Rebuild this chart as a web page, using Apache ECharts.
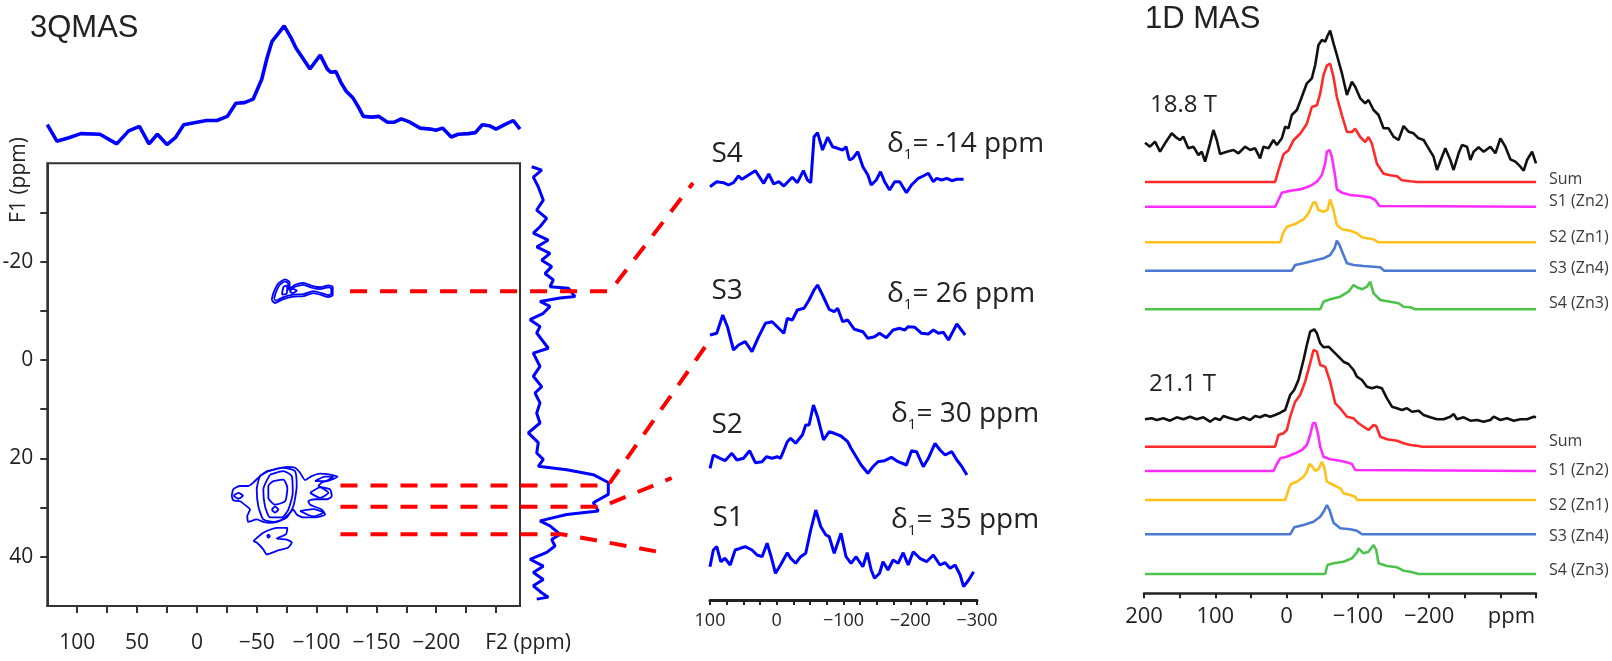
<!DOCTYPE html>
<html><head><meta charset="utf-8">
<script src="https://cdn.jsdelivr.net/npm/echarts@6/dist/echarts.min.js"></script>
<style>html,body{margin:0;padding:0;background:#fff}#c{width:1612px;height:661px}</style>
</head><body><div id="c"></div>
<script>
// ---------------- DATA ----------------
// 3QMAS: F2 (top) projection
const f2ProjPpm = [125,117,107,97,81,67,57,48,40,33,25,18,11,0,-8,-16.7,-25.4,-32.6,-39.8,-47,-54.2,-58.5,-62.8,-68.6,-72.9,-78.7,-82.9,-88.7,-94.5,-98.8,-103.1,-108.9,-111.8,-116.1,-120.4,-124.8,-130.5,-134.8,-139.1,-146.3,-152.1,-159.3,-165.1,-170.8,-178,-186.6,-195.2,-199.6,-205.3,-212.5,-218.3,-226.9,-232.7,-238.5,-244.3,-250,-257.2,-264.4,-270];
const f2ProjInt = [25.3,8.8,12.3,16.4,15.7,6.1,19.1,23.6,6.1,15.7,5.4,12.3,25.3,27.8,29.5,29.5,33.6,46.7,47.4,50.8,70.8,91.5,108.7,117.3,124.2,112.1,101.8,91.5,81.1,88,94.9,81.1,77.7,78.4,67.4,58.7,51.9,43.3,33.6,32.9,33.6,27.8,27.8,31.2,27.8,21.9,20.9,19.8,21.9,13,15.7,16.4,17.4,25.3,24.3,20.9,25.3,29.5,20.9];
// 3QMAS: F1 (right) projection
const f1ProjPpm = [-39.3,-38.6,-37.2,-35.2,-32.5,-30.5,-28.8,-27.1,-25.8,-24.4,-23,-21.7,-20.3,-19,-17.6,-16.3,-14.9,-14.6,-12.9,-12.6,-11.9,-10.9,-9.5,-8.2,-6.8,-5.5,-2.4,-1.4,1.3,3.3,5.4,6.7,8.7,10.8,12.8,14.8,16.8,18.9,20.2,21.6,22.3,23.3,24.9,27.3,29,30.7,31.4,32.7,33.7,35.4,36.5,37.8,39.1,40.5,41.9,43.2,44.6,45.9,47.3,48.2,48.6];
const f1ProjInt = [6.7,16.7,8.3,13.3,18.3,11.7,21.7,15,8.3,23.3,11.7,25,16.7,26.7,20,28.3,25,43.3,50,35,15,25,18.3,5,15,11.7,23.3,8.3,15,8.3,16.7,10,15,11.7,15,3.3,13.3,11.7,18.3,13.3,41.7,68.3,83.3,83.3,68.3,73.3,41.7,15,25,35,26.7,30,21.7,5,18.3,8.3,18.3,8.3,16.7,23.3,11.7];
// 3QMAS contours: rings of [F2 ppm, F1 ppm]
const contourRings = [
  [[-62.5,-12.2],[-63.9,-13.6],[-68.1,-15.6],[-73.7,-16.4],[-77.3,-15.9],[-77.8,-14.6],[-82,-15.3],[-89,-15.7],[-96,-15.1],[-102.9,-14.8],[-109.9,-15.2],[-113.5,-14.9],[-113.5,-13.2],[-109.9,-12.8],[-104.3,-13.2],[-97.3,-13.6],[-89,-13],[-80.6,-12.9],[-72.2,-12.4],[-65.3,-11.6],[-62.5,-12.2]],
  [[-64.5,-12.4],[-65.8,-13.6],[-69.3,-15.3],[-73.5,-16],[-76.3,-15.6],[-76.8,-14.3],[-82,-14.9],[-89,-15.3],[-96,-14.7],[-103,-14.4],[-110,-14.8],[-112.3,-14.6],[-112.3,-13.5],[-110,-13.2],[-104.3,-13.6],[-97.3,-14],[-89,-13.4],[-80.6,-13.3],[-72.2,-12.8],[-66,-12.1],[-64.5,-12.4]],
  [[-71,-13.3],[-72.5,-14.9],[-75.5,-15.2],[-75,-13.5],[-71,-13.3]],
  [[-77.5,-14],[-80,-14.5],[-83.5,-14.1],[-80,-13.6],[-77.5,-14]],
  [[-29.1,27.7],[-30.4,26.3],[-36,25.6],[-43,25.6],[-47.2,24.9],[-52.8,23.6],[-59.7,22.6],[-66.7,22.1],[-75.1,21.7],[-82,21.9],[-86.2,22.9],[-90.4,24.4],[-96,23.6],[-102.9,23.1],[-111.3,23.3],[-117.4,23.7],[-111.3,24.4],[-104.3,24.9],[-101.5,25.6],[-111.3,26.3],[-112.7,27.7],[-108.5,28.3],[-98.7,28.3],[-93.1,28.7],[-94.6,29.4],[-104.3,30.4],[-107.1,31.4],[-98.7,32],[-89,32],[-83.4,31.4],[-80.6,30.4],[-76.4,31.4],[-69.5,32.7],[-61.1,33.1],[-55.5,32.9],[-50,32.4],[-43,32.9],[-42.1,31.7],[-44.4,30.4],[-41.6,29.7],[-36,28.7],[-30.4,28.5],[-29.1,27.7]],
  [[-58.4,22.6],[-72.2,21.9],[-82,22.6],[-83.4,25.6],[-80.6,29.7],[-75.1,32],[-63.9,32.9],[-55.5,32.4],[-51.3,29.7],[-50,26.3],[-52.8,23.6],[-58.4,22.6]],
  [[-61.1,23.3],[-72.2,22.6],[-79.3,23.6],[-80.1,27],[-76.4,30.4],[-70.9,32],[-61.1,32],[-56.9,29.7],[-55.5,26.3],[-61.1,23.3]],
  [[-63.9,24.6],[-72.2,24.3],[-75.6,26],[-73.7,28.7],[-65.3,29.4],[-59.7,28],[-59.7,25.6],[-63.9,24.6]],
  [[-62.5,30.4],[-65.3,29.8],[-68.1,30.4],[-65.3,31],[-62.5,30.4]],
  [[-30.5,27.6],[-34.6,27],[-38.5,27.6],[-34.6,28.2],[-30.5,27.6]],
  [[-94.6,27],[-102.9,25.9],[-109.9,27],[-102.9,28],[-94.6,27]],
  [[-86.2,30.7],[-97.3,30.3],[-105.7,31],[-97.3,31.8],[-86.2,30.7]],
  [[-98.7,24.6],[-107.1,23.7],[-114.1,23.7],[-107.1,24.6],[-98.7,24.6]],
  [[-47.2,36.8],[-55.5,35.1],[-66.7,34.1],[-75.6,34.1],[-74.5,35.4],[-66.7,36.3],[-75.1,36.5],[-79.3,37.1],[-76.4,38.1],[-66.7,38.8],[-58.4,39.5],[-55.5,38.5],[-50,37.1],[-47.2,36.8]],
  [[-58.5,35.8],[-59.7,35.5],[-61,35.8],[-59.7,36.1],[-58.5,35.8]]
];
// F2 slices
const sliceNames = ['S4','S3','S2','S1'];
const sliceDelta = [-14, 26, 30, 35];
const s4Ppm = [100,89.9,79.9,72.4,64.8,57.3,52.2,42.2,32.1,24.5,19.5,12,4.5,-3.1,-10.6,-18.2,-23.3,-30.9,-39.9,-46,-51,-55.9,-61.1,-68.6,-76.2,-83.7,-91.2,-98.8,-103.8,-108.8,-113.9,-121.4,-129,-136.5,-141.5,-149.1,-155.5,-161.6,-169.1,-176.7,-184.2,-186.8,-194.3,-201.9,-212,-219.5,-227.1,-234.6,-239.6,-247.2,-254.7,-262.3,-269.8,-279.9];
const s4Int = [13.3,18.3,17.3,15,17.3,24,20.7,25,29.3,21.7,16.7,26,16,18.3,14,19.3,22.7,17.3,29.3,20,17.3,63.3,67.3,50,62.7,53.3,51.7,50,53.3,40,41.7,48.3,33.3,25,15,20,28.3,18.3,10,18.3,18.3,16.7,7.3,15,21.7,24,26.7,18.3,21.7,20,21.7,19.3,20.7,20.7];
const s3Ppm = [100,89.9,80.9,73.9,64.8,57.3,47.2,37.1,27.1,17,6.9,-0.7,-10.6,-15.8,-23.3,-30.9,-40.8,-48.4,-55.9,-61.1,-68.6,-78.6,-86.1,-91.2,-98.8,-106.3,-116.3,-129,-136.5,-146.5,-154,-164.2,-174.3,-184.2,-191.8,-196.9,-206.9,-217,-227.1,-234.6,-242.2,-249.7,-257.3,-269.8,-282.3];
const s3Int = [25,26.7,45,33.3,10,15,18.3,8.3,23.3,36.7,38.3,33.3,26.7,41.7,40,50,51.7,60,70,75,65,50.7,48.3,51.7,38.3,40,30.7,28.3,21.7,23.3,26.7,22.3,30,31.7,30,33.3,32.7,26.7,26,30,26.7,27.7,20,36,25];
const s2Ppm = [100,95,84.9,77.4,67.3,59.7,49.7,40.7,32.1,22,15.5,6.9,-0.7,-5.7,-15.8,-20.8,-28.3,-38.4,-43.4,-48.4,-55,-61.1,-70.1,-78.6,-86.1,-96.2,-106.3,-111.3,-118.9,-126.4,-136.5,-144.1,-151.6,-161.6,-171.7,-181.8,-194.3,-201.9,-209.4,-219.5,-227.1,-237.1,-244.6,-252.2,-262.3,-269.8,-277.4,-284.9];
const s2Int = [16.7,30,26.7,24.3,31.7,25,26.7,34.3,22.3,23.3,28.3,26.7,28.3,26.7,43.3,46.7,41.7,50,60,60,80,68.3,45,53.3,51.7,49,43.3,36.7,28.3,20,11.7,18.3,23.3,24.3,27.7,23.3,20,34.3,33.3,18.3,26.7,41.7,35,30,33.3,25,18.3,10];
const s1Ppm = [100,95,89.9,83.9,77.4,69.8,62.3,54.7,47.2,37.1,29.5,22,14.4,8.4,1.9,-5.7,-15.8,-20.8,-28.3,-35.8,-43.4,-50.9,-58.5,-66,-73.6,-78.6,-86.1,-93.7,-96.2,-103.8,-111.3,-118.9,-123.8,-129,-135.5,-141.5,-146.5,-154,-159.2,-166.7,-174.3,-181.8,-189.4,-196.9,-204.5,-214.4,-224.5,-234.6,-244.6,-252.2,-259.7,-267.2,-274.8,-279.9,-287.5,-295];
const s1Int = [28.3,45,48.3,33.3,36.7,30,45,46.7,48.3,45,40,38.3,51.7,38.3,21.7,30,42.3,36.7,31.7,38.3,41.7,65,85,68.3,60,58.3,41.7,56.7,61.7,38.3,31.7,38.3,33.3,28.3,42.3,25,16.7,21.7,33.3,25,35,31.7,42.3,30,43.3,36.7,33.3,40,30,32.3,26.7,30,20,8.3,15,23.3];
// Connector geometry (data units)
const connF1 = [-14, 25.5, 29.8, 35.4];
const connStartF2 = [-128, -120, -120, -120];
const connCornerInt = [85, 83, 77, 37];
const connEnd = [[125.5,17],[107.5,13],[157.4,7],[167.4,42]];

// 1D MAS, 18.8 T
const exp188Ppm = [198.6,191.6,184.6,177.5,170.5,161.1,155.1,149.4,144.8,137.8,130.7,123.7,119,114.3,107.3,102.6,97.9,93.3,83.9,74.5,67.5,58.1,51.1,44.1,37.1,32.4,25.4,18.4,13.6,6.6,1.9,-2.7,-7.4,-14.5,-21.5,-28.5,-35.5,-40.2,-44.8,-49.6,-54.2,-57.4,-61.2,-65.9,-70.6,-77.7,-84.7,-91.7,-96.3,-103.4,-110.4,-115,-122.1,-129.1,-136.1,-143.1,-150.1,-157.2,-164.2,-171.2,-178.2,-185.3,-192.3,-199.3,-206.3,-211.1,-218.1,-222.8,-229.8,-234.4,-241.4,-246.2,-253.2,-257.9,-262.5,-269.5,-276.5,-286,-293,-300,-307,-314,-321,-328.1,-332.7,-337.5,-344.5,-350];
const exp188Int = [32.3,28.3,33.3,23.3,31.7,41.7,37.7,35,38.3,26.7,28.3,20,23.3,13.3,31.7,45,35,21,23.3,25,21.7,28.3,25,26.7,16.7,28.3,26.7,35,30,36.7,48.3,46.7,60,65,78.3,91.7,96.7,110,130,135,133.3,139,144.3,131.7,120,101.7,80,93.3,88.3,76.7,71.7,75,65,60,46.7,46.7,38.3,35,49,43.3,41.7,36.7,35,26.7,18.3,5,18.3,26.7,15,5,21.7,30,28.3,15,23.3,27.7,23.3,28.3,21.7,36.7,28.3,15.7,13.3,8.3,4.3,15,23.3,11.7];
const sum188Ppm = [198.6,16,11.4,4.3,-2.7,-9.7,-19.1,-28.5,-35.5,-42.6,-47.2,-51.8,-56.6,-61.2,-65.9,-70.6,-77.7,-84.7,-91.7,-96.3,-103.4,-110.4,-115,-119.8,-126.8,-136.1,-145.5,-154.9,-161.9,-173.6,-183,-350];
const sum188Int = [0,0,11.7,27.7,31.7,41.7,48.3,58.3,75,76.7,88.3,106.7,116.7,118.3,105,85,66.7,50,50,53.3,45,40,45,38.3,18.3,8.3,6.7,5.7,1.7,0.7,0,0];
const zn2_188Ppm = [198.6,16,11.4,6.6,-5.1,-19.1,-33.1,-42.6,-49.6,-54.2,-56.6,-60.3,-63.6,-68.3,-70.6,-77.7,-89.3,-103.4,-117.4,-124.4,-130.4,-350];
const zn2_188Int = [0,0,6.7,14,16,17.3,20.7,25,31.7,43.3,55,56.7,50,30,17.3,14,11.7,10.7,9.3,6.7,0.7,0];
const zn1_188Ppm = [198.6,8.8,5.1,-0.4,-12.1,-23.8,-30.8,-37,-40.2,-44.8,-51.8,-57.4,-61.2,-65.9,-70.6,-77.7,-89.3,-98.7,-105.8,-112.8,-122.1,-129.1,-350];
const zn1_188Int = [0,0,9,15.6,18.3,23,29,39,40.6,32.3,30.6,32.3,43,32.3,17.3,13,11.6,9,5,4,3,0,0];
const zn4_188Ppm = [198.6,-7.4,-12.1,-23.8,-37.8,-51.8,-61.2,-67.3,-70.6,-74.3,-79.9,-84.7,-94,-108,-122.1,-131.5,-137.1,-350];
const zn4_188Int = [0,0,5.7,7.4,10,12.4,15.7,22.4,30,25.7,15.7,7.4,5.7,4.7,4,3.4,0,0];
const zn3_188Ppm = [198.6,-47.2,-51.8,-61.2,-75.3,-86.9,-94,-98.7,-105.8,-112.8,-117.4,-122.1,-131.5,-145.5,-157.2,-164.2,-173.6,-180.6,-350];
const zn3_188Int = [0,0,7.6,10,12.6,17.6,24.3,22,20,22.6,27.6,16,9.3,7.6,6,2.6,2,0,0];
// 1D MAS, 21.1 T
const exp211Ppm = [198.6,189.2,182.2,172.9,163.5,154.1,144.8,135.4,126,116.7,107.3,100.3,93.3,88.6,79.2,69.9,60.5,51.1,44.1,37.1,30.1,23,16,8.8,1.9,-5.1,-10.7,-16.7,-23.8,-28.5,-33.1,-38.8,-42.6,-47.2,-51.8,-58.9,-65.9,-72.9,-79.9,-86.9,-94,-98.7,-105.8,-112.8,-119.8,-126.8,-133.8,-140.9,-147.9,-154.9,-161.9,-169,-176,-185.3,-192.3,-201.7,-211.1,-220.4,-229.8,-234.4,-239.2,-248.5,-257.9,-267.3,-276.5,-286,-290.6,-300,-309.4,-318.7,-328.1,-337.5,-346.8,-350];
const exp211Int = [5.7,6.7,5,6.7,4.3,7.7,5.7,8.3,5.7,7.7,3.3,6.7,5,9,6.7,5,7.7,5,9,7.7,10,8.3,10,12.3,15,30,35,45,65,80,93.3,95.7,91.7,81.7,77.7,78.3,73.3,68.3,63.3,61,55,48.3,45,38.3,36.7,38.3,36.7,26.7,18.3,16.7,15,16.7,13.3,14.3,10,7.7,5.7,5.7,8.3,11,5.7,7.7,4.3,5,3.3,5,8.3,5,6.7,4.3,5.7,5.7,8.3,7.7];
const sum211Ppm = [198.6,16,11.4,4.3,-0.4,-5.1,-12.1,-19.1,-26.1,-33.1,-37.8,-42.6,-47.2,-54.2,-61.2,-68.3,-75.3,-84.7,-94,-101,-108,-115,-122.1,-125.8,-131.5,-140.9,-154.9,-164.2,-173.6,-185.3,-190,-350];
const sum211Int = [0,0,11.7,13.4,16.7,30,45,51.7,65,83.4,96.7,95,81.7,80,65,43.4,38.4,30,28.4,23.4,20,16.7,21.7,20.7,10,7.4,6,3.4,1.7,0.7,0,0];
const zn2_211Ppm = [198.6,18.4,13.6,8.8,-0.4,-12.1,-21.5,-28.5,-33.1,-37,-40.2,-44,-47.2,-51.8,-61.2,-75.3,-86.9,-91.7,-96.3,-98.7,-350];
const zn2_211Int = [0,0,7,12.7,14.3,17.7,21,26,36,47.7,48.3,37.7,24.3,14.3,11.7,10.3,8.3,7,1,0,0];
const zn1_211Ppm = [198.6,1.9,-2.7,-6,-14.5,-23.8,-28.5,-32.2,-35.5,-40.2,-44.8,-49.6,-52.8,-56.6,-65.9,-75.3,-79.9,-89.3,-96.3,-98.7,-350];
const zn1_211Int = [0,0,10,16,18.3,23.3,28.3,36,34,29.3,30.7,38.3,33.3,18.3,15,11.7,6.7,5,3.3,0,0];
const zn4_211Ppm = [198.6,-5.1,-10.7,-23.8,-37.8,-47.2,-52.8,-56.6,-60.3,-65.9,-75.3,-89.3,-98.7,-105.8,-350];
const zn4_211Int = [0,0,7,9.3,12.6,17.6,23.6,29.3,24.3,11.6,6,5,3.6,0,0];
const zn3_211Ppm = [198.6,-54.2,-57.4,-65.9,-79.9,-91.7,-98.7,-101,-108,-115,-122.1,-125.8,-129.1,-140.9,-154.9,-164.2,-173.6,-185.3,-350];
const zn3_211Int = [0,0,9,10.7,12.3,15.7,21.3,25.7,20.7,22.3,29,24,10.7,8,6.7,3.3,2.3,0,0];
const masLabels = ['Sum','S1 (Zn2)','S2 (Zn1)','S3 (Zn4)','S4 (Zn3)'];
const fieldLabels = ['18.8 T','21.1 T'];

// ---------------- CHART ----------------
const FONT = '"Open Sans", "DejaVu Sans", sans-serif';
const TFONT = '"Liberation Sans", Arial, sans-serif';
const TXT = '#222';
const minus = v => (v < 0 ? '\u2212' + Math.abs(v) : String(v));
const range = (a, b, s) => { const r = []; for (let v = a; s > 0 ? v <= b : v >= b; v += s) r.push(v); return r; };

const gridDefs = [
  {left:47.3, top:163.3, width:472.7, height:442.7, show:true, borderColor:'#333', borderWidth:2}, // 0 2D
  {left:47.3, top:20, width:472.7, height:130},   // 1 F2 proj
  {left:525, top:163.3, width:90, height:442.7},  // 2 F1 proj
  {left:710, top:120, width:267, height:80},      // 3 S4
  {left:710, top:280, width:267, height:80},      // 4 S3
  {left:710, top:405, width:267, height:80},      // 5 S2
  {left:710, top:505, width:267, height:90},      // 6 S1
  {left:1144, top:25, width:392, height:150},     // 7 exp 18.8
  {left:1144, top:52, width:392, height:130},     // 8 sum
  {left:1144, top:146.7, width:392, height:60},   // 9 zn2
  {left:1144, top:192.3, width:392, height:50},   // 10 zn1
  {left:1144, top:230.7, width:392, height:40},   // 11 zn4
  {left:1144, top:269.3, width:392, height:40},   // 12 zn3
  {left:1144, top:325, width:392, height:100},    // 13 exp 21.1
  {left:1144, top:346.7, width:392, height:100},  // 14 sum
  {left:1144, top:411, width:392, height:60},     // 15 zn2
  {left:1144, top:450, width:392, height:50},     // 16 zn1
  {left:1144, top:494.3, width:392, height:40},   // 17 zn4
  {left:1144, top:534, width:392, height:40}      // 18 zn3
].map(g => Object.assign({containLabel:false, outerBoundsMode:'none'}, g));

const hid = (i, min, max, inv) => ({gridIndex:i, type:'value', min, max, inverse:!!inv, show:false, splitLine:{show:false}});
const xAxes = [], yAxes = [];
// 0: 2D
xAxes.push({gridIndex:0, type:'value', min:-270, max:125, inverse:true, splitLine:{show:false},
  axisLine:{show:true, onZero:false, lineStyle:{color:'#333', width:2}},
  axisTick:{show:true, length:7, lineStyle:{color:'#333', width:2}, customValues: range(100, -250, -25)},
  axisLabel:{show:true, margin:27, fontSize:21, fontFamily:FONT, color:TXT,
    customValues:[100,50,0,-50,-100,-150,-200,-250],
    formatter: v => v === -250 ? '{n|F2 (ppm)}' : minus(v),
    rich:{n:{fontSize:21, fontFamily:FONT, color:TXT, padding:[0,0,0,64]}}}});
yAxes.push({gridIndex:0, type:'value', min:-40, max:50, inverse:true, splitLine:{show:false},
  axisLine:{show:true, onZero:false, lineStyle:{color:'#333', width:2}},
  axisTick:{show:true, length:7, lineStyle:{color:'#333', width:2}, customValues: range(-30, 40, 10)},
  axisLabel:{show:true, margin:14, fontSize:21, fontFamily:FONT, color:TXT, customValues:[-20,0,20,40], formatter: v => String(v)}});
// 1: F2 projection
xAxes.push(hid(1, -270, 125, true)); yAxes.push(hid(1, 0, 130));
// 2: F1 projection
xAxes.push(hid(2, 0, 90)); yAxes.push(hid(2, -40, 50, true));
// 3-6 slices
[3,4,5].forEach(i => { xAxes.push(hid(i, -300, 100, true)); yAxes.push(hid(i, 0, 80)); });
xAxes.push({gridIndex:6, type:'value', min:-300, max:100, inverse:true, interval:25, offset:5, splitLine:{show:false},
  axisLine:{show:true, onZero:false, lineStyle:{color:'#222', width:3}},
  axisTick:{show:true, length:5, lineStyle:{color:'#222', width:2}},
  axisLabel:{show:true, margin:12, fontSize:18, fontFamily:FONT, color:TXT, formatter: v => (v % 100 === 0 ? minus(v) : '')}});
yAxes.push(hid(6, 0, 90));
// 7-18 1D MAS
const masHeights = [150,130,60,50,40,40,100,100,60,50,40,40];
masHeights.forEach((h, k) => {
  const i = 7 + k;
  if (i === 18) {
    xAxes.push({gridIndex:18, type:'value', min:-350, max:200, inverse:true, interval:50, offset:19.3, splitLine:{show:false},
      axisLine:{show:true, onZero:false, lineStyle:{color:'#222', width:2.5}},
      axisTick:{show:true, length:5, lineStyle:{color:'#222', width:2}},
      axisLabel:{show:true, margin:12, fontSize:22, fontFamily:FONT, color:TXT,
        formatter: v => v === -300 ? '{p|ppm}' : ((v % 100 === 0 && v >= -200) ? minus(v) : ''),
        rich:{p:{fontSize:22, fontFamily:FONT, color:TXT, padding:[0,0,0,22]}}}});
  } else {
    xAxes.push(hid(i, -350, 200, true));
  }
  yAxes.push(hid(i, 0, h));
});

const line = (i, xs, ys, color, width, swap) => ({
  type:'line', xAxisIndex:i, yAxisIndex:i, showSymbol:false, symbol:'none', clip:false, silent:true, animation:false,
  data: xs.map((x, k) => swap ? [ys[k], x] : [x, ys[k]]),
  lineStyle:{color, width}, z:5
});
const BLUE = '#0000ff';
const series = [];
contourRings.forEach(r => series.push({type:'line', xAxisIndex:0, yAxisIndex:0, showSymbol:false, symbol:'none', silent:true,
  animation:false, smooth:0.2, data:r, lineStyle:{color:BLUE, width:1.8}}));
series.push(line(1, f2ProjPpm, f2ProjInt, BLUE, 3.6));
series.push(line(2, f1ProjPpm, f1ProjInt, BLUE, 3));
series[series.length - 1].data = f1ProjPpm.map((y, k) => [f1ProjInt[k], y]);
series.push(line(3, s4Ppm, s4Int, BLUE, 3));
series.push(line(4, s3Ppm, s3Int, BLUE, 3));
series.push(line(5, s2Ppm, s2Int, BLUE, 3));
series.push(line(6, s1Ppm, s1Int, BLUE, 3));
const C = {exp:'#111111', sum:'#ff2b2b', zn2:'#ff2cff', zn1:'#ffc21a', zn4:'#4b78d2', zn3:'#4cc44c'};
series.push(line(7, exp188Ppm, exp188Int, C.exp, 2.6));
series.push(line(8, sum188Ppm, sum188Int, C.sum, 2.6));
series.push(line(9, zn2_188Ppm, zn2_188Int, C.zn2, 2.6));
series.push(line(10, zn1_188Ppm, zn1_188Int, C.zn1, 2.6));
series.push(line(11, zn4_188Ppm, zn4_188Int, C.zn4, 2.6));
series.push(line(12, zn3_188Ppm, zn3_188Int, C.zn3, 2.6));
series.push(line(13, exp211Ppm, exp211Int, C.exp, 2.6));
series.push(line(14, sum211Ppm, sum211Int, C.sum, 2.6));
series.push(line(15, zn2_211Ppm, zn2_211Int, C.zn2, 2.6));
series.push(line(16, zn1_211Ppm, zn1_211Int, C.zn1, 2.6));
series.push(line(17, zn4_211Ppm, zn4_211Int, C.zn4, 2.6));
series.push(line(18, zn3_211Ppm, zn3_211Int, C.zn3, 2.6));

const chart = echarts.init(document.getElementById('c'), null, {renderer:'canvas'});
chart.setOption({animation:false, backgroundColor:'#ffffff', textStyle:{fontFamily:FONT},
  grid:gridDefs, xAxis:xAxes, yAxis:yAxes, series});

// ---------------- TEXT + CONNECTORS ----------------
const txt = (text, x, y, size, family, color, extra) => Object.assign({type:'text', x, y, z:60, silent:true,
  style:{text, fontSize:size, fontFamily:family, fill:color, align:'left', verticalAlign:'middle'}}, extra || {});
const g = [];
g.push(txt('3QMAS', 30, 28.5, 31, TFONT, TXT));
g.push(txt('1D MAS', 1145, 19.5, 31, TFONT, TXT));
g.push(txt('F1 (ppm)', 19, 180, 21, FONT, TXT, {rotation:Math.PI/2}));
g[2].style.align = 'center';
const sLabelPos = [[711.5,154],[711.5,291.5],[711.5,425.5],[712.5,518]];
const dLabelPos = [[887,144],[887,294],[891,414.5],[891,520]];
sliceNames.forEach((n, i) => {
  g.push(txt(n, sLabelPos[i][0], sLabelPos[i][1], 28, FONT, TXT));
  const d = {type:'text', x:dLabelPos[i][0], y:dLabelPos[i][1], z:60, silent:true,
    style:{text:'{a|\u03b4}{s|1}{a|= ' + sliceDelta[i] + ' ppm}', fill:TXT, fontFamily:FONT, fontSize:28, align:'left', verticalAlign:'middle',
      rich:{a:{fontSize:28, fontFamily:FONT, lineHeight:36, fill:TXT}, s:{fontSize:15, fontFamily:FONT, lineHeight:15, verticalAlign:'bottom', fill:TXT}}}};
  g.push(d);
});
g.push(txt(fieldLabels[0], 1150, 105, 24, FONT, TXT));
g.push(txt(fieldLabels[1], 1149, 384, 24, FONT, TXT));
const lab188 = [179.3, 201.7, 237.3, 268.3, 303.3];
const lab211 = [441.7, 470, 505, 536, 570.7];
masLabels.forEach((t, k) => {
  g.push(txt(t, 1549, lab188[k], 16, FONT, '#3a3a3a'));
  g.push(txt(t, 1549, lab211[k], 16, FONT, '#3a3a3a'));
});
const sliceGrid = [3,4,5,6];
connF1.forEach((f1, i) => {
  const p0 = chart.convertToPixel({gridIndex:0}, [connStartF2[i], f1]);
  const p1 = chart.convertToPixel({gridIndex:2}, [connCornerInt[i], f1]);
  const p2 = chart.convertToPixel({gridIndex:sliceGrid[i]}, connEnd[i]);
  g.push({type:'polyline', z:50, silent:true, shape:{points:[p0, p1, p2]},
    style:{stroke:'#ff0000', lineWidth:4, lineDash:[17,13], fill:null}});
});
chart.setOption({graphic:{elements:g}});
</script></body></html>
